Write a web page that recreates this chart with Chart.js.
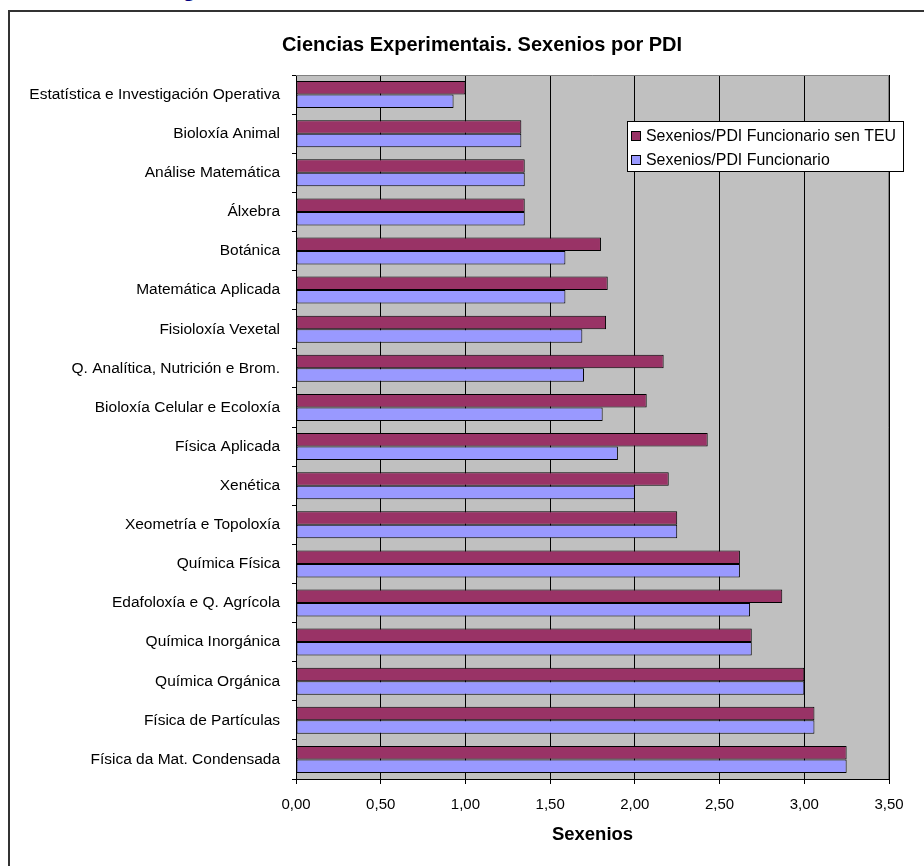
<!DOCTYPE html>
<html>
<head>
<meta charset="utf-8">
<script src="https://cdn.jsdelivr.net/npm/chart.js@4"></script>
<style>
  body { margin: 0; background: #fff; overflow: hidden; width: 924px; height: 866px; position: relative; }
  #frame { position: absolute; left: 8px; top: 10px; width: 1000px; height: 1000px; border-left: 2px solid #333; border-top: 2px solid #333; }
  #heading { position: absolute; left: 182px; top: -24px; font: bold 24px "Liberation Sans", Arial, sans-serif; color: #000080; line-height: 24px; }
  #chart { position: absolute; left: 0; top: 0; }
</style>
</head>
<body>
<div id="heading">g</div>
<div id="frame"></div>
<canvas id="chart" width="924" height="866"></canvas>
<script>
const departments = [
  'Estatística e Investigación Operativa', 'Bioloxía Animal', 'Análise Matemática', 'Álxebra',
  'Botánica', 'Matemática Aplicada', 'Fisioloxía Vexetal', 'Q. Analítica, Nutrición e Brom.',
  'Bioloxía Celular e Ecoloxía', 'Física Aplicada', 'Xenética', 'Xeometría e Topoloxía',
  'Química Física', 'Edafoloxía e Q. Agrícola', 'Química Inorgánica', 'Química Orgánica',
  'Física de Partículas', 'Física da Mat. Condensada'
];
const senTeu = [1.00, 1.33, 1.35, 1.35, 1.80, 1.84, 1.83, 2.17, 2.07, 2.43, 2.20, 2.25, 2.62, 2.87, 2.69, 3.00, 3.06, 3.25];
const funcionario = [0.93, 1.33, 1.35, 1.35, 1.59, 1.59, 1.69, 1.70, 1.81, 1.90, 2.00, 2.25, 2.62, 2.68, 2.69, 3.00, 3.06, 3.25];
const seriesNames = ['Sexenios/PDI Funcionario sen TEU', 'Sexenios/PDI Funcionario'];
const chartTitle = 'Ciencias Experimentais. Sexenios por PDI';

const font = '"Liberation Sans", Arial, sans-serif';

// gray plot background, title and the legend box inside the plot
const plotDecor = {
  id: 'plotDecor',
  beforeDraw(chart) {
    const { ctx, chartArea: a } = chart;
    ctx.save();
    ctx.fillStyle = '#C0C0C0';
    ctx.fillRect(a.left, a.top, a.right - a.left, a.bottom - a.top);
    ctx.restore();
  },
  afterDraw(chart) {
    const { ctx, chartArea: a } = chart;
    ctx.save();
    ctx.strokeStyle = '#808080';
    ctx.lineWidth = 1;
    ctx.beginPath();
    ctx.moveTo(a.left, a.top + 0.5);
    ctx.lineTo(a.right - 0.5, a.top + 0.5);
    ctx.lineTo(a.right - 0.5, a.bottom);
    ctx.stroke();

    // title
    ctx.fillStyle = '#000';
    ctx.font = 'bold 20px ' + font;
    ctx.textAlign = 'center';
    ctx.textBaseline = 'middle';
    ctx.fillText(chartTitle, 482, 45);

    // legend
    const bx = 627.5, by = 121.5, bw = 276, bh = 50;
    ctx.fillStyle = '#fff';
    ctx.fillRect(bx, by, bw, bh);
    ctx.strokeStyle = '#000';
    ctx.strokeRect(bx, by, bw, bh);
    ctx.font = '15.9px ' + font;
    ctx.textAlign = 'left';
    chart.data.datasets.forEach((ds, i) => {
      const cy = 136 + i * 24;
      ctx.fillStyle = ds.backgroundColor;
      ctx.fillRect(631.5, cy - 4.5, 9, 9);
      ctx.strokeStyle = '#000';
      ctx.strokeRect(631.5, cy - 4.5, 9, 9);
      ctx.fillStyle = '#000';
      ctx.fillText(ds.label, 646, cy + 1);
    });
    ctx.restore();
  }
};

new Chart(document.getElementById('chart'), {
  type: 'bar',
  data: {
    labels: departments,
    datasets: [{
      label: seriesNames[0],
      data: senTeu,
      backgroundColor: '#993366',
      borderColor: '#000',
      borderWidth: 1,
      borderSkipped: false
    }, {
      label: seriesNames[1],
      data: funcionario,
      backgroundColor: '#9999FF',
      borderColor: '#000',
      borderWidth: 1,
      borderSkipped: false
    }]
  },
  options: {
    indexAxis: 'y',
    responsive: false,
    animation: false,
    datasets: { bar: { categoryPercentage: 0.69, barPercentage: 1.0 } },
    layout: { padding: { left: 0, right: 35, top: 75, bottom: 0 } },
    scales: {
      y: {
        grid: { drawOnChartArea: false, drawTicks: true, tickLength: 4, color: '#000', offset: true },
        border: { display: true, color: '#000' },
        ticks: { color: '#000', padding: 12, font: { family: font, size: 15.5 } },
        afterFit(scale) { scale.width = 296; }
      },
      x: {
        min: 0,
        max: 3.5,
        grid: { color: '#000', tickLength: 5 },
        border: { display: true, color: '#000' },
        ticks: {
          stepSize: 0.5,
          color: '#000',
          padding: 12,
          font: { family: font, size: 15 },
          callback: v => v.toFixed(2).replace('.', ',')
        },
        title: {
          display: true,
          text: 'Sexenios',
          color: '#000',
          font: { family: font, size: 18.5, weight: 'bold' },
          padding: { top: 0, bottom: 20 }
        },
        afterFit(scale) { scale.height = 87; }
      }
    },
    plugins: {
      legend: { display: false },
      tooltip: { enabled: false },
      title: { display: false }
    }
  },
  plugins: [plotDecor]
});
</script>
</body>
</html>
